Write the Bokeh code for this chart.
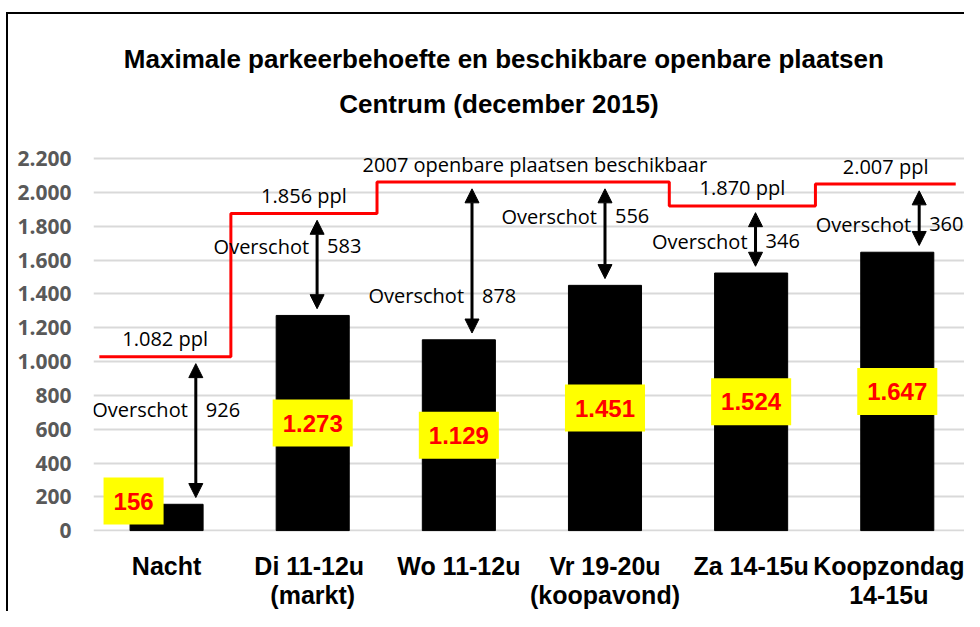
from bokeh.plotting import figure
from bokeh.models import (ColumnDataSource, Range1d, FixedTicker, Arrow, NormalHead,
                          Label, LabelSet)
from bokeh.core.properties import value
from bokeh.embed import file_html
from bokeh.resources import INLINE

# ---------------- data ----------------
categories = ["Nacht", "Di  11-12u\n(markt)", "Wo 11-12u", "Vr 19-20u\n(koopavond)",
              "Za 14-15u", "Koopzondag\n14-15u"]
demand = [156, 1273, 1129, 1451, 1524, 1647]
demand_labels = ["156", "1.273", "1.129", "1.451", "1.524", "1.647"]
# available public places per period, as drawn by the red step line
capacity_drawn = [1028, 1876, 2062, 2062, 1921, 2050]
capacity_labels = ["1.082 ppl", "1.856 ppl", "2007 openbare plaatsen beschikbaar",
                   "1.870 ppl", "2.007 ppl"]
surplus = [926, 583, 878, 556, 346, 360]
y_ticks = [0, 200, 400, 600, 800, 1000, 1200, 1400, 1600, 1800, 2000, 2200]
y_tick_labels = ["0", "200", "400", "600", "800", "1.000", "1.200", "1.400",
                 "1.600", "1.800", "2.000", "2.200"]
title_lines = ["Maximale parkeerbehoefte en beschikbare openbare plaatsen",
               "Centrum (december 2015)"]

# ---------------- layout / style ----------------
OPEN = "Open Sans"
LIB = "Liberation Sans"
n = len(categories)
X_END = 5.96
centers = [i + 0.5 for i in range(n)]

p = figure(width=964, height=611, output_backend="svg", toolbar_location=None,
           x_range=Range1d(0, X_END), y_range=Range1d(-5, 3136),
           min_border_left=93, min_border_right=0, min_border_top=0, min_border_bottom=80)
# chart-area frame (left and top edge, as in the cropped original)
p.styles = {
    "background": "linear-gradient(#000000, #000000) 6px 12px / 2px 100% no-repeat, "
                  "linear-gradient(#000000, #000000) 6px 12px / 100% 2px no-repeat, #ffffff"
}
p.outline_line_color = None
p.background_fill_alpha = 0
p.border_fill_alpha = 0

# y axis
p.yaxis.ticker = FixedTicker(ticks=y_ticks)
p.yaxis.major_label_overrides = {t: l for t, l in zip(y_ticks, y_tick_labels)}
p.yaxis.axis_line_color = None
p.yaxis.major_tick_line_color = None
p.yaxis.minor_tick_line_color = None
p.yaxis.major_tick_out = 0
p.yaxis.major_tick_in = 0
p.yaxis.major_label_standoff = 22
p.yaxis.major_label_text_font = OPEN
p.yaxis.major_label_text_font_style = "bold"
p.yaxis.major_label_text_font_size = "21px"
p.yaxis.major_label_text_color = "#595959"

# x axis
p.xaxis.ticker = FixedTicker(ticks=centers)
p.xaxis.major_label_overrides = {c: lab for c, lab in zip(centers, categories)}
p.xaxis.axis_line_color = None
p.xaxis.major_tick_line_color = None
p.xaxis.minor_tick_line_color = None
p.xaxis.major_tick_out = 0
p.xaxis.major_tick_in = 0
p.xaxis.major_label_standoff = 20
p.xaxis.major_label_text_font = LIB
p.xaxis.major_label_text_font_style = "bold"
p.xaxis.major_label_text_font_size = "25px"
p.xaxis.major_label_text_color = "#000000"
p.xaxis.major_label_text_line_height = 1.05

# grid
p.xgrid.grid_line_color = None
p.ygrid.ticker = FixedTicker(ticks=y_ticks)
p.ygrid.grid_line_color = "#d9d9d9"
p.ygrid.grid_line_width = 2

# bars
bar_src = ColumnDataSource(dict(x=centers, top=demand))
p.vbar(x="x", top="top", width=0.5, source=bar_src, color="#000000")

# red step line
segments = []
start = 0
for i in range(1, n + 1):
    if i == n or capacity_drawn[i] != capacity_drawn[start]:
        segments.append((start, i - 1, capacity_drawn[start]))
        start = i
line_x, line_y, seg_mid, seg_lvl = [], [], [], []
for a, b, lvl in segments:
    x0 = 0.04 if a == 0 else a - 0.06
    x1 = X_END - 0.06 if b == n - 1 else b + 1 - 0.06
    line_x += [x0, x1]
    line_y += [lvl, lvl]
    seg_mid.append((x0 + x1) / 2 + (0.08 if b > a else 0))
    seg_lvl.append(lvl)
p.line(line_x, line_y, line_color="#ff0000", line_width=3)

cap_src = ColumnDataSource(dict(x=seg_mid, y=seg_lvl, t=capacity_labels))
p.text(x="x", y="y", text="t", source=cap_src, y_offset=-18, text_font=value(OPEN),
       text_font_size="20px", text_color="#000000", text_align="center",
       text_baseline="middle")

# double arrows (surplus)
arrow_dx = [0.2, 0.03, 0.09, 0.0, 0.03, 0.15]
gap = 40
ax = [c + d for c, d in zip(centers, arrow_dx)]
arr_src = ColumnDataSource(dict(x=ax, ys=[v + gap for v in demand],
                                ye=[c - gap for c in capacity_drawn]))
p.add_layout(Arrow(start=NormalHead(size=14, fill_color="#000000", line_color="#000000"),
                   end=NormalHead(size=14, fill_color="#000000", line_color="#000000"),
                   x_start="x", y_start="ys", x_end="x", y_end="ye", source=arr_src,
                   line_color="#000000", line_width=3))

label_frac = [0.64, 0.68, 0.28, 0.67, 0.47, 0.41]
ov_y = [d + f * (c - d) for d, c, f in zip(demand, capacity_drawn, label_frac)]
ov_src = ColumnDataSource(dict(x=ax, y=ov_y, w=["Overschot"] * n,
                               s=[str(v) for v in surplus]))
p.add_layout(LabelSet(x="x", y="y", text="w", source=ov_src, x_offset=-8,
                      text_font=value(OPEN), text_font_size="20px", text_color="#000000",
                      text_align="right", text_baseline="middle"))
p.add_layout(LabelSet(x="x", y="y", text="s", source=ov_src, x_offset=10,
                      text_font=value(OPEN), text_font_size="20px", text_color="#000000",
                      text_align="left", text_baseline="middle"))

# value labels on yellow boxes
lab_y = [max(v / 2, 175) for v in demand]
lab_dx = [-33 if v < 350 else 0 for v in demand]
val_src = ColumnDataSource(dict(x=centers, y=lab_y, t=demand_labels, dx=lab_dx))
p.text(x="x", y="y", text="t", source=val_src, x_offset="dx", text_font=value(LIB),
       text_font_style="bold", text_font_size="24px", text_color="#ff0000",
       text_align="center", text_baseline="middle",
       background_fill_color="#ffff00", padding=(10, 15))

# title (two centred lines)
p.add_layout(Label(x=2.808, y=2791, text=title_lines[0], text_font=LIB,
                   text_font_style="bold", text_font_size="26px", text_color="#000000",
                   text_align="center", text_baseline="alphabetic"))
p.add_layout(Label(x=2.774, y=2522, text=title_lines[1], text_font=LIB,
                   text_font_style="bold", text_font_size="26px", text_color="#000000",
                   text_align="center", text_baseline="alphabetic"))

open("out.html", "w").write(file_html(p, INLINE))
